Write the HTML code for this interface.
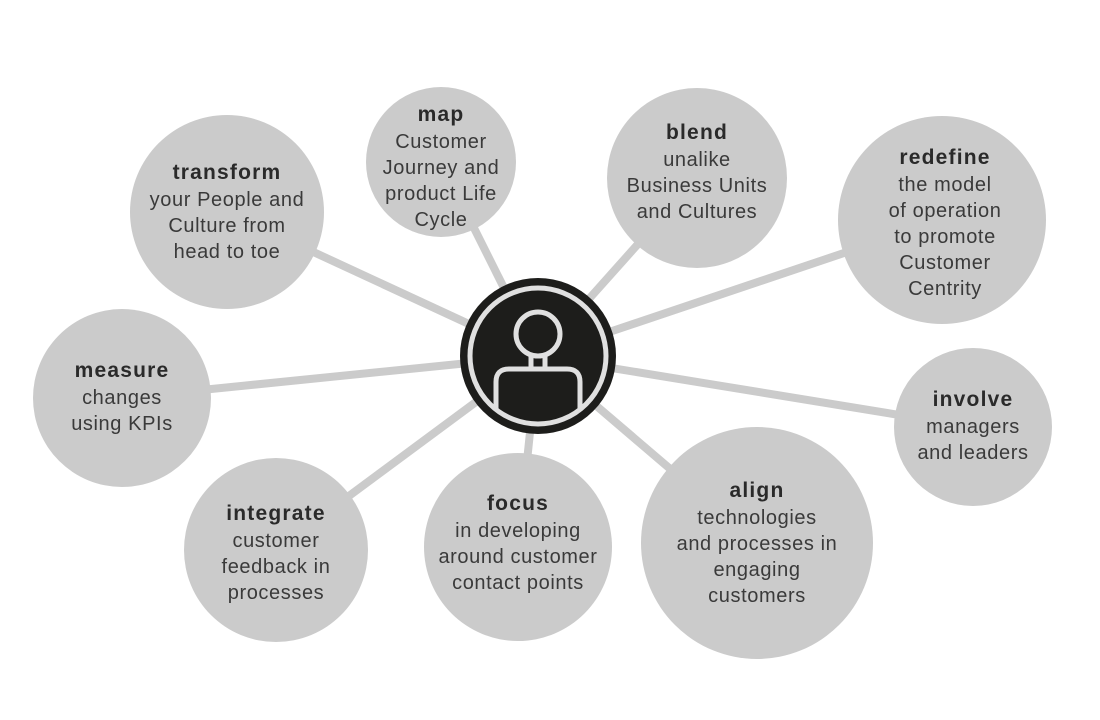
<!DOCTYPE html>
<html><head><style>
body{margin:0;background:#fff;}
svg{display:block}
text{font-family:"Liberation Sans",sans-serif;fill:#3a3a3a;font-size:20px;letter-spacing:0.6px;text-anchor:middle}
.b{font-weight:bold;font-size:21px;letter-spacing:1.2px;fill:#2a2a2a}
</style></head><body>
<svg width="1100" height="720" viewBox="0 0 1100 720">
<g stroke="#cbcbcb" stroke-width="8">
<line x1="538" y1="356" x2="227" y2="212"/>
<line x1="538" y1="356" x2="441" y2="162"/>
<line x1="538" y1="356" x2="697" y2="178"/>
<line x1="538" y1="356" x2="942" y2="220"/>
<line x1="538" y1="356" x2="122" y2="398"/>
<line x1="538" y1="356" x2="973" y2="427"/>
<line x1="538" y1="356" x2="276" y2="550"/>
<line x1="538" y1="356" x2="518" y2="547"/>
<line x1="538" y1="356" x2="757" y2="543"/>
</g>
<g fill="#cbcbcb">
<circle cx="227" cy="212" r="97"/>
<circle cx="441" cy="162" r="75"/>
<circle cx="697" cy="178" r="90"/>
<circle cx="942" cy="220" r="104"/>
<circle cx="122" cy="398" r="89"/>
<circle cx="973" cy="427" r="79"/>
<circle cx="276" cy="550" r="92"/>
<circle cx="518" cy="547" r="94"/>
<circle cx="757" cy="543" r="116"/>
</g>
<circle cx="538" cy="356" r="78" fill="#1d1d1b"/>
<circle cx="538" cy="356" r="68" fill="none" stroke="#e0e0e0" stroke-width="5"/>
<g fill="none" stroke="#e0e0e0" stroke-width="5">
<circle cx="538" cy="334" r="22"/>
<path d="M531 356 V368 M545 356 V368"/>
<path d="M496 410 V382 Q496 369 509 369 H567 Q580 369 580 382 V410"/>
</g>
<text x="227" y="179" class="b">transform</text>
<text x="227" y="206">your People and</text>
<text x="227" y="232">Culture from</text>
<text x="227" y="258">head to toe</text>
<text x="441" y="121" class="b">map</text>
<text x="441" y="148">Customer</text>
<text x="441" y="174">Journey and</text>
<text x="441" y="200">product Life</text>
<text x="441" y="226">Cycle</text>
<text x="697" y="139" class="b">blend</text>
<text x="697" y="166">unalike</text>
<text x="697" y="192">Business Units</text>
<text x="697" y="218">and Cultures</text>
<text x="945" y="164" class="b">redefine</text>
<text x="945" y="191">the model</text>
<text x="945" y="217">of operation</text>
<text x="945" y="243">to promote</text>
<text x="945" y="269">Customer</text>
<text x="945" y="295">Centrity</text>
<text x="122" y="377" class="b">measure</text>
<text x="122" y="404">changes</text>
<text x="122" y="430">using KPIs</text>
<text x="973" y="406" class="b">involve</text>
<text x="973" y="433">managers</text>
<text x="973" y="459">and leaders</text>
<text x="276" y="520" class="b">integrate</text>
<text x="276" y="547">customer</text>
<text x="276" y="573">feedback in</text>
<text x="276" y="599">processes</text>
<text x="518" y="510" class="b">focus</text>
<text x="518" y="537">in developing</text>
<text x="518" y="563">around customer</text>
<text x="518" y="589">contact points</text>
<text x="757" y="497" class="b">align</text>
<text x="757" y="524">technologies</text>
<text x="757" y="550">and processes in</text>
<text x="757" y="576">engaging</text>
<text x="757" y="602">customers</text>
</svg>
</body></html>
